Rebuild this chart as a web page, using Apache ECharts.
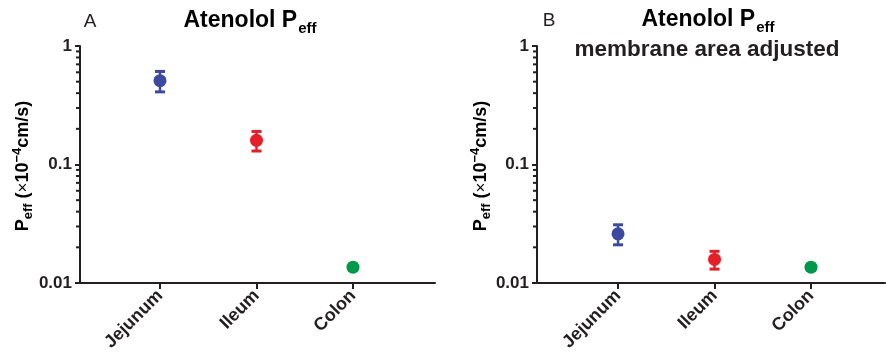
<!DOCTYPE html>
<html>
<head>
<meta charset="utf-8">
<script src="https://cdn.jsdelivr.net/npm/echarts@6/dist/echarts.min.js"></script>
<style>html,body{margin:0;padding:0;background:#fff;}#c{width:886px;height:354px;}</style>
</head>
<body>
<div id="c"></div>
<script>
// ---- data ----
const categories = ['Jejunum', 'Ileum', 'Colon'];
const peffA = [0.51, 0.16, 0.0136];
const sdA = [0.10, 0.030, 0.0008];
const peffB = [0.026, 0.0158, 0.0136];
const sdB = [0.0050, 0.0027, 0.0008];
const yTickLabels = ['0.01', '0.1', '1'];
const minorTickValues = [0.02, 0.03, 0.04, 0.05, 0.06, 0.07, 0.08, 0.09, 0.2, 0.3, 0.4, 0.5, 0.6, 0.7, 0.8, 0.9];

// ---- style ----
const palette = ['#3b4a9f', '#e61e27', '#00984a'];
const FONT = '"Liberation Sans", Arial, Helvetica, sans-serif';
const AX = '#231f20';

const chart = echarts.init(document.getElementById('c'), null, {renderer: 'canvas'});

function xAxisCfg(idx, min, max) {
  return {
    type: 'value', gridIndex: idx, min: min, max: max,
    splitLine: {show: false},
    axisLine: {show: true, lineStyle: {color: AX, width: 2}},
    axisTick: {show: true, customValues: [1, 2, 3], length: 6, lineStyle: {color: AX, width: 2}},
    axisLabel: {
      customValues: [1, 2, 3], rotate: 45, margin: 10,
      fontFamily: FONT, fontWeight: 'bold', fontSize: 18, color: '#231f20',
      formatter: v => categories[Math.round(v) - 1] || ''
    }
  };
}
function yAxisCfg(idx) {
  return {
    type: 'log', logBase: 10, gridIndex: idx, min: 0.01, max: 1,
    splitLine: {show: false},
    axisLine: {show: true, lineStyle: {color: AX, width: 2}},
    axisTick: {show: true, length: 5, lineStyle: {color: AX, width: 2}},
    axisLabel: {
      margin: 8, fontFamily: FONT, fontWeight: 'bold', fontSize: 17, color: '#231f20',
      formatter: v => yTickLabels[Math.round(Math.log10(v)) + 2] || ''
    }
  };
}

function errorSeries(idx, means, sds) {
  return {
    type: 'custom', xAxisIndex: idx, yAxisIndex: idx, z: 2,
    data: means.map((m, i) => [i + 1, m - sds[i], m + sds[i], i]),
    encode: {x: 0, y: [1, 2]},
    renderItem: function (params, api) {
      const x = api.value(0), lo = api.value(1), hi = api.value(2), ci = api.value(3);
      const pt = api.coord([x, hi]), pb = api.coord([x, lo]);
      const c = palette[ci];
      const cw = 10, ch = 3;
      return {
        type: 'group',
        children: [
          {type: 'line', shape: {x1: pt[0], y1: pt[1], x2: pb[0], y2: pb[1]}, style: {stroke: c, lineWidth: 2.5}},
          {type: 'rect', shape: {x: pt[0] - cw / 2, y: pt[1] - ch / 2, width: cw, height: ch}, style: {fill: c}},
          {type: 'rect', shape: {x: pb[0] - cw / 2, y: pb[1] - ch / 2, width: cw, height: ch}, style: {fill: c}}
        ]
      };
    }
  };
}
function pointSeries(idx, means) {
  return {
    type: 'scatter', xAxisIndex: idx, yAxisIndex: idx, z: 3,
    symbol: 'circle', symbolSize: 13,
    itemStyle: {opacity: 1},
    emphasis: {disabled: true},
    data: means.map((m, i) => ({value: [i + 1, m], itemStyle: {color: palette[i], opacity: 1}}))
  };
}
function minorTickSeries(idx, xmin) {
  return {
    type: 'custom', xAxisIndex: idx, yAxisIndex: idx, z: 4, silent: true, clip: false,
    data: minorTickValues.map(v => [xmin, v]),
    renderItem: function (params, api) {
      const p = api.coord([api.value(0), api.value(1)]);
      return {type: 'line', shape: {x1: p[0] - 4, y1: p[1], x2: p[0], y2: p[1]}, style: {stroke: AX, lineWidth: 2}};
    }
  };
}

const xMinA = 0.171, xMaxA = 3.85, xMinB = 0.16, xMaxB = 3.767;

const titleRich = {
  t: {fontFamily: FONT, fontWeight: 'bold', fontSize: 23, color: '#231f20', lineHeight: 30},
  s: {fontFamily: FONT, fontWeight: 'bold', fontSize: 15, color: '#231f20', lineHeight: 30, verticalAlign: 'bottom', padding: [0, 0, 0, 1]}
};
const nameRich = {
  t: {fontFamily: FONT, fontWeight: 'bold', fontSize: 18, color: '#231f20', lineHeight: 24},
  r: {fontFamily: FONT, fontWeight: 'normal', fontSize: 17, color: '#231f20', lineHeight: 24},
  s: {fontFamily: FONT, fontWeight: 'bold', fontSize: 13, color: '#231f20', lineHeight: 24, verticalAlign: 'bottom'},
  u: {fontFamily: FONT, fontWeight: 'bold', fontSize: 13, color: '#231f20', lineHeight: 13, verticalAlign: 'top'}
};
const yName = '{t|P}{s|eff}{t| (}{r|×}{t|10}{u|−4}{t|cm/s)}';

chart.setOption({
  animation: false,
  backgroundColor: '#fff',
  grid: [
    {left: 80, top: 46, width: 355, height: 237},
    {left: 537, top: 46, width: 348, height: 237}
  ],
  xAxis: [xAxisCfg(0, xMinA, xMaxA), xAxisCfg(1, xMinB, xMaxB)],
  yAxis: [yAxisCfg(0), yAxisCfg(1)],
  series: [
    errorSeries(0, peffA, sdA), pointSeries(0, peffA), minorTickSeries(0, xMinA),
    errorSeries(1, peffB, sdB), pointSeries(1, peffB), minorTickSeries(1, xMinB)
  ],
  graphic: [
    {type: 'text', x: 90, y: 22, style: {text: 'A', font: 'normal 19px ' + FONT, fill: '#231f20', align: 'center', verticalAlign: 'middle'}},
    {type: 'text', x: 250, y: 21, style: {text: '{t|Atenolol P}{s|eff}', rich: titleRich, align: 'center', verticalAlign: 'middle'}},
    {type: 'text', x: 549, y: 21, style: {text: 'B', font: 'normal 19px ' + FONT, fill: '#231f20', align: 'center', verticalAlign: 'middle'}},
    {type: 'text', x: 708, y: 20, style: {text: '{t|Atenolol P}{s|eff}', rich: titleRich, align: 'center', verticalAlign: 'middle'}},
    {type: 'text', x: 707, y: 50, style: {text: 'membrane area adjusted', font: 'bold 22.5px ' + FONT, fill: '#231f20', align: 'center', verticalAlign: 'middle'}},
    {type: 'text', x: 23, y: 166, rotation: Math.PI / 2, style: {text: yName, rich: nameRich, align: 'center', verticalAlign: 'middle'}},
    {type: 'text', x: 481, y: 166, rotation: Math.PI / 2, style: {text: yName, rich: nameRich, align: 'center', verticalAlign: 'middle'}}
  ]
});
</script>
</body>
</html>
